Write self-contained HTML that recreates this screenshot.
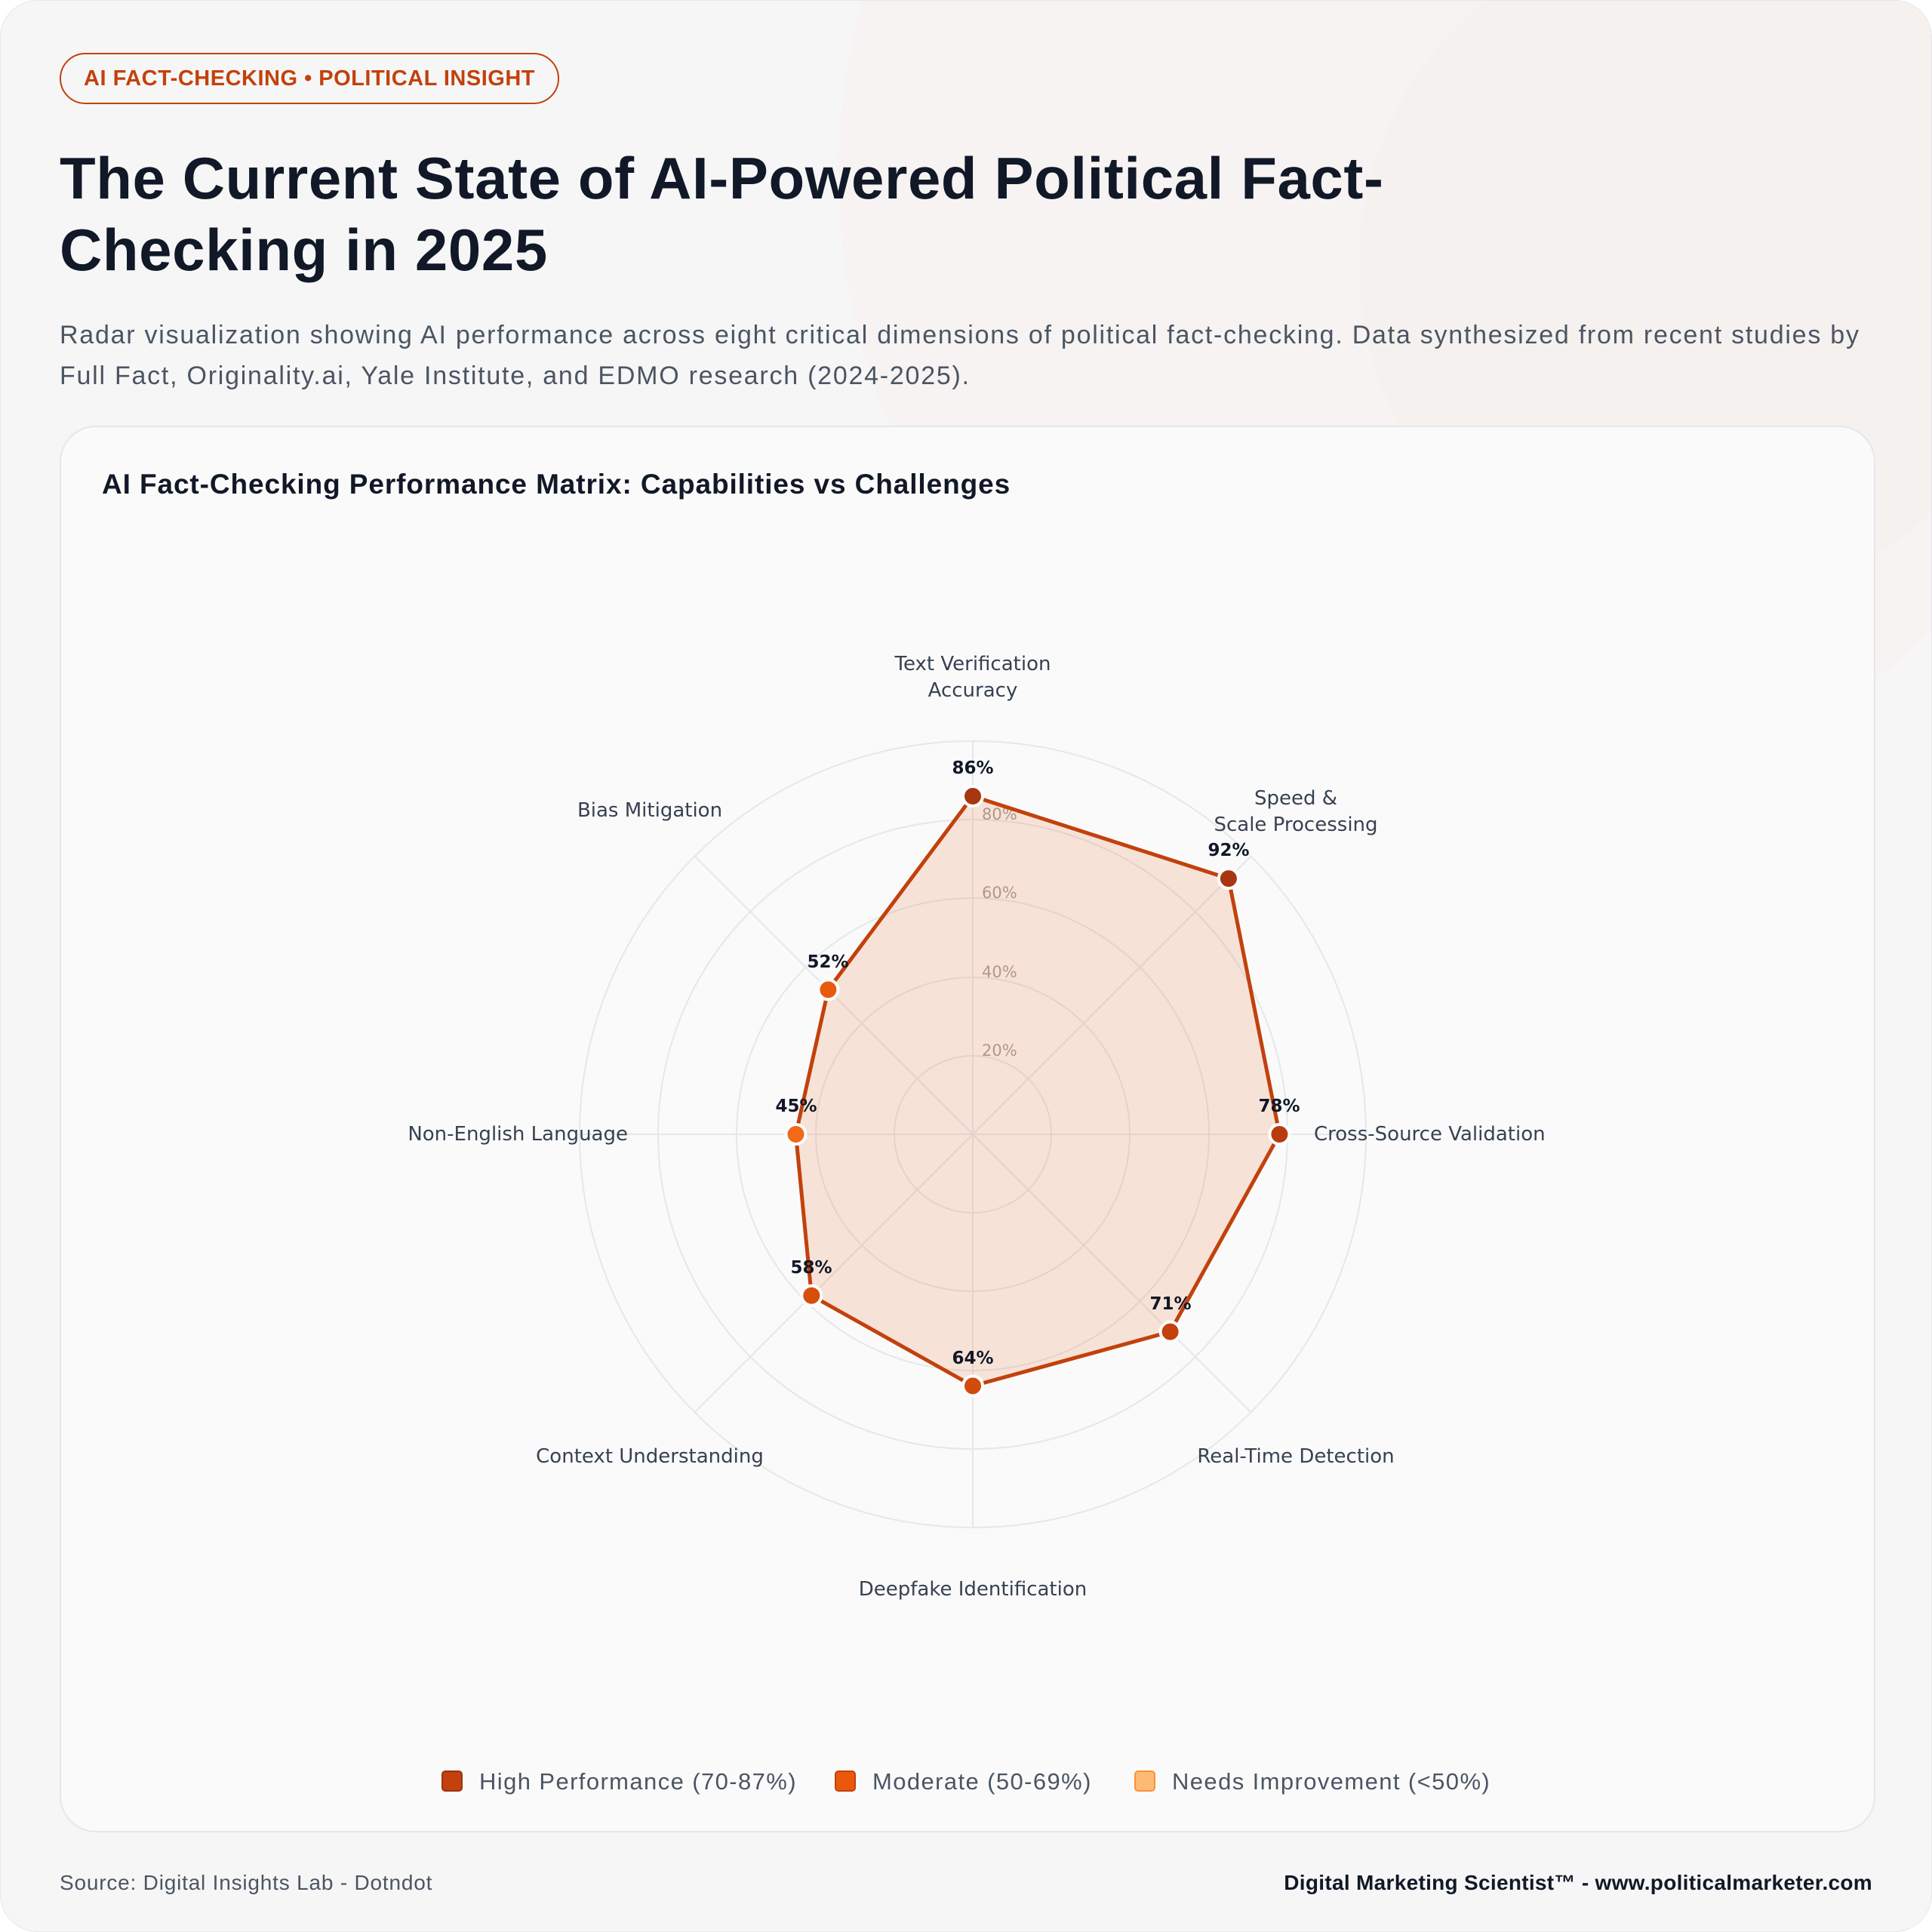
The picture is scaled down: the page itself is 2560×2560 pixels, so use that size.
<!DOCTYPE html>
<html><head><meta charset="utf-8"><style>
html,body{margin:0;padding:0;width:2560px;height:2560px;background:#fff;overflow:hidden}
body{font-family:"Liberation Sans",sans-serif}
.page{position:absolute;left:0;top:0;width:2558px;height:2558px;border:1px solid #e5e7eb;border-radius:50px;background:#f6f6f6;overflow:hidden}
.deco1{position:absolute;left:1110px;top:-620px;width:1700px;height:1700px;border-radius:50%;background:rgba(245,225,215,0.12)}
.deco2{position:absolute;left:1800px;top:-100px;width:900px;height:900px;border-radius:50%;background:rgba(240,215,200,0.08)}
.badge{position:absolute;left:78px;top:69px;width:658px;height:64px;border:2px solid #c2410c;border-radius:34px;color:#c2410c;font-weight:bold;font-size:29px;line-height:64px;text-align:center;letter-spacing:0.5px}
h1{position:absolute;left:78px;top:188px;margin:0;width:1950px;font-size:78px;line-height:95px;color:#111827;font-weight:bold;letter-spacing:0.6px}
.sub{position:absolute;left:78px;top:416px;width:2460px;font-size:34px;line-height:54px;color:#4b5563;letter-spacing:1.75px}
.card{position:absolute;left:78px;top:563px;width:2402px;height:1860px;background:#fafafa;border:2px solid #e5e7eb;border-radius:48px}
.ct{position:absolute;left:134px;top:620px;font-size:37px;font-weight:bold;color:#111827;letter-spacing:0.9px}
.legend{position:absolute;top:2340px;left:0;width:2560px;font-size:31px;color:#4b5563;letter-spacing:1.4px}
.li{position:absolute;top:0;height:40px;line-height:40px;white-space:nowrap}
.sq{display:inline-block;width:28px;height:28px;border-radius:5px;vertical-align:middle;margin-right:22px;position:relative;top:-3px;box-sizing:border-box}
.foot{position:absolute;top:2478px;font-size:28px;color:#4b5563;letter-spacing:0.8px}
</style></head><body><div class="page">
<div class="deco1"></div><div class="deco2"></div>
<div class="badge">AI FACT-CHECKING • POLITICAL INSIGHT</div>
<h1>The Current State of AI-Powered Political Fact-<br>Checking in 2025</h1>
<div class="sub">Radar visualization showing AI performance across eight critical dimensions of political fact-checking. Data synthesized from recent studies by<br>Full Fact, Originality.ai, Yale Institute, and EDMO research (2024-2025).</div>
<div class="card"></div>
<div class="ct">AI Fact-Checking Performance Matrix: Capabilities vs Challenges</div>
<svg style="position:absolute;left:0;top:0" width="2560" height="2560" font-family="'DejaVu Sans','Liberation Sans',sans-serif">
<g fill="none" stroke="#e5e7eb" stroke-width="2">
<circle cx="1288" cy="1502" r="104"/><circle cx="1288" cy="1502" r="208"/><circle cx="1288" cy="1502" r="313"/><circle cx="1288" cy="1502" r="417"/><circle cx="1288" cy="1502" r="521"/>
<line x1="1288" y1="981" x2="1288" y2="2023"/><line x1="767" y1="1502" x2="1809" y2="1502"/>
<line x1="920" y1="1134" x2="1656" y2="1870"/><line x1="1656" y1="1134" x2="920" y2="1870"/>
</g>
<g fill="#a8a29e" font-size="21"><text x="1300" y="1398">20%</text><text x="1300" y="1294">40%</text><text x="1300" y="1189">60%</text><text x="1300" y="1085">80%</text></g>
<polygon points="1288,1054 1626.9,1163.1 1694.4,1502 1549.6,1763.6 1288,1835.4 1074.3,1715.7 1053.5,1502 1096.4,1310.4" fill="rgba(234,88,12,0.14)" stroke="#c2410c" stroke-width="5" stroke-linejoin="round"/>
<g stroke="#fff" stroke-width="4">
<circle cx="1288" cy="1054" r="13" fill="#a8360f"/><circle cx="1626.9" cy="1163.1" r="13" fill="#a8360f"/>
<circle cx="1694.4" cy="1502" r="13" fill="#b93c0e"/><circle cx="1549.6" cy="1763.6" r="13" fill="#c2410c"/>
<circle cx="1288" cy="1835.4" r="13" fill="#d24a0c"/><circle cx="1074.3" cy="1715.7" r="13" fill="#d84e0c"/>
<circle cx="1053.5" cy="1502" r="13" fill="#f06a1a"/><circle cx="1096.4" cy="1310.4" r="13" fill="#e85b0f"/>
</g>
<g fill="#111827" font-size="23" font-weight="bold" text-anchor="middle">
<text x="1288" y="1024">86%</text><text x="1627" y="1133">92%</text><text x="1694" y="1472">78%</text><text x="1550" y="1734">71%</text>
<text x="1288" y="1806">64%</text><text x="1074" y="1686">58%</text><text x="1054" y="1472">45%</text><text x="1096" y="1281">52%</text>
</g>
<g fill="#374151" font-size="26" text-anchor="middle">
<text x="1288" y="887">Text Verification</text><text x="1288" y="922">Accuracy</text>
<text x="1716" y="1065">Speed &amp;</text><text x="1716" y="1100">Scale Processing</text>
<text x="1740" y="1510" text-anchor="start">Cross-Source Validation</text>
<text x="1716" y="1937">Real-Time Detection</text>
<text x="1288" y="2113">Deepfake Identification</text>
<text x="860" y="1937">Context Understanding</text>
<text x="831" y="1510" text-anchor="end">Non-English Language</text>
<text x="860" y="1081">Bias Mitigation</text>
</g>
</svg>
<div class="legend">
<div class="li" style="left:584px"><span class="sq" style="background:#c2410c;border:2px solid #9a3412"></span>High Performance (70-87%)</div>
<div class="li" style="left:1105px"><span class="sq" style="background:#ea580c;border:2px solid #c2410c"></span>Moderate (50-69%)</div>
<div class="li" style="left:1502px"><span class="sq" style="background:#fdba74;border:2px solid #fb923c"></span>Needs Improvement (&lt;50%)</div>
</div>
<div class="foot" style="left:78px">Source: Digital Insights Lab - Dotndot</div>
<div class="foot" style="right:78px;font-weight:bold;color:#111827;letter-spacing:0.3px">Digital Marketing Scientist™ - www.politicalmarketer.com</div>
</div></body></html>
